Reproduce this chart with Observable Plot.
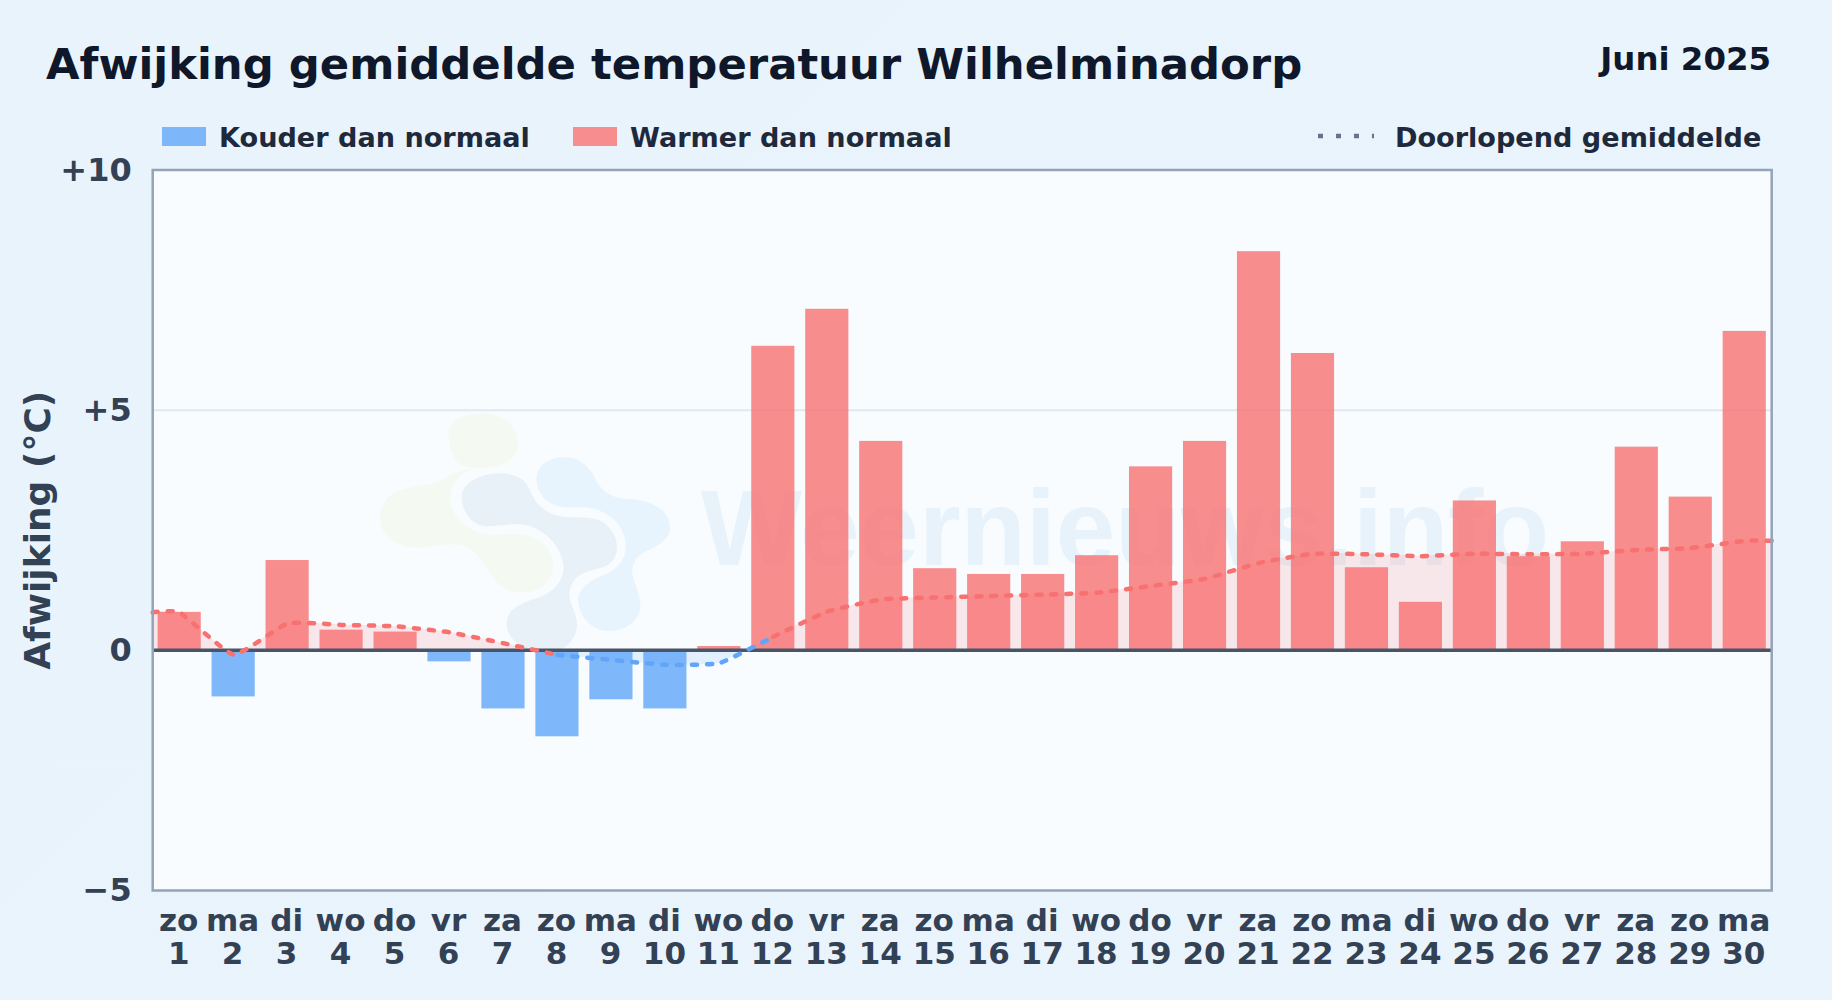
<!DOCTYPE html>
<html lang="nl"><head><meta charset="utf-8">
<script src="https://cdn.jsdelivr.net/npm/d3@7"></script>
<script src="https://cdn.jsdelivr.net/npm/@observablehq/plot@0.6"></script>
<style>
html,body{margin:0;padding:0}
body{width:1832px;height:1000px;overflow:hidden;background:linear-gradient(135deg,#e8f3fc,#eaf4fd);font-family:"DejaVu Sans",sans-serif;font-weight:700;position:relative}
.abs{position:absolute;white-space:nowrap;line-height:1}
#title{left:46px;top:43px;font-size:43.35px;color:#0f172a}
#month{right:61px;top:43px;font-size:32.4px;color:#0f172a}
.leg{top:124px;font-size:27.1px;color:#1e293b}
.sw{position:absolute;top:127px;width:44px;height:19px}
#chart{position:absolute;left:0;top:150px}
#chart svg{display:block;background:transparent}
</style></head><body>
<div class="abs" id="title">Afwijking gemiddelde temperatuur Wilhelminadorp</div>
<div class="abs" id="month">Juni 2025</div>
<div class="sw" style="left:162px;background:#7eb6fa"></div>
<div class="abs leg" style="left:219px">Kouder dan normaal</div>
<div class="sw" style="left:573px;background:#f88d8f"></div>
<div class="abs leg" style="left:630px">Warmer dan normaal</div>
<svg class="abs" style="left:1316px;top:130px" width="60" height="12"><line x1="2" x2="58" y1="6" y2="6" stroke="#64748b" stroke-width="4.5" stroke-dasharray="5 13"/></svg>
<div class="abs leg" style="left:1395px">Doorlopend gemiddelde</div>
<div id="chart"></div>
<script>
const days = d3.range(1, 31);
const weekdays = ["zo","ma","di","wo","do","vr","za","zo","ma","di","wo","do","vr","za","zo","ma","di","wo","do","vr","za","zo","ma","di","wo","do","vr","za","zo","ma"];
const deviation = [0.79,-0.97,1.87,0.42,0.38,-0.24,-1.22,-1.80,-1.03,-1.22,0.08,6.33,7.10,4.35,1.70,1.58,1.58,1.97,3.82,4.35,8.30,6.18,1.72,1.00,3.11,1.95,2.26,4.23,3.19,6.64];
const runningMean = [0.79,-0.09,0.56,0.53,0.50,0.375,0.147,-0.096,-0.20,-0.302,-0.267,0.283,0.807,1.06,1.10,1.13,1.16,1.20,1.34,1.49,1.82,2.01,2.00,1.96,2.01,2.00,2.01,2.09,2.13,2.28];
const lineX = [0.5, ...days, 30.5];
const lineY = [runningMean[0], ...runningMean, runningMean[29]];
const lineTable = lineX.map((x, i) => ({x, y: lineY[i]}));
const blueFrom = 8, blueTo = 12;
const yTicks = [-5, 0, 5, 10];
const yLabels = ["\u22125", "0", "+5", "+10"];
const red = "#f87171", blue = "#60a5fa";
const bars = days.map((d, i) => ({x1: d - 0.4, x2: d + 0.4, v: deviation[i]}));
const curveStyle = {curve: "cardinal", tension: 0.6};
const lineStyle = {x: "x", y: "y", strokeWidth: 4.5, strokeDasharray: "5 10", strokeLinecap: "round", ...curveStyle};

// The faint site logo and name behind the data
function watermark() {
  const ns = "http://www.w3.org/2000/svg";
  const g = document.createElementNS(ns, "g");
  g.innerHTML = `
  <g transform="translate(350,240) scale(0.3333)">
  <path fill="#f4f9f2" d="M295 130C298 90 350 70 400 70C460 70 505 110 503 165C500 205 470 225 420 232C380 238 320 235 290 265C255 285 215 285 170 295C120 305 90 340 90 385C90 435 140 475 205 473C250 470 310 455 350 470C385 485 405 530 430 565C455 600 500 612 540 605C585 597 612 560 610 520C608 480 570 440 510 433C460 428 420 445 370 420C325 395 295 360 302 310C308 270 345 240 385 235C300 240 300 170 295 130Z"/>
  <path fill="#e8f0f8" d="M335 320C335 280 390 250 450 250C500 250 530 270 542 305C555 340 590 375 640 380C700 385 745 375 775 410C805 440 810 490 785 515C760 540 720 535 690 555C660 575 650 610 665 645C680 680 690 710 670 745C650 780 610 792 570 788C520 780 470 750 470 700C470 660 510 640 560 625C610 610 645 570 640 525C635 480 600 430 540 408C490 395 440 412 400 408C360 400 335 360 335 320Z"/>
  <path fill="#e8f4fd" d="M560 260C562 225 600 200 650 202C695 205 722 235 738 270C755 305 790 325 830 327C880 325 960 350 960 410C960 450 920 470 885 485C855 500 840 530 850 565C865 610 880 640 865 675C845 715 800 727 760 722C715 712 682 670 685 625C690 590 730 565 775 550C815 530 835 490 825 445C810 390 760 355 700 352C640 355 595 350 575 315C562 295 558 280 560 260Z"/>
  </g>
  <text x="1125" y="415" text-anchor="middle" font-family="'Liberation Sans',sans-serif" font-weight="700" font-size="107" fill="#e6f1fa" fill-opacity="0.9">Weernieuws.info</text>`;
  return g;
}

const chart = Plot.plot({
  width: 1832,
  height: 850,
  marginLeft: 152.2,
  marginRight: 60.8,
  marginTop: 19.5,
  marginBottom: 110,
  x: {domain: [0.5, 30.5], axis: null},
  y: {domain: [-5, 10], axis: null},
  style: {background: "transparent", fontFamily: "'DejaVu Sans',sans-serif", fontWeight: 700},
  marks: [
    Plot.frame({fill: "#f8fcff", stroke: null}),
    watermark,
    Plot.ruleY([5], {stroke: "#e2e8f0", strokeWidth: 2}),
    Plot.areaY(lineTable.filter(d => d.x <= blueFrom), {x: "x", y1: 0, y2: "y", fill: red, fillOpacity: 0.15, ...curveStyle}),
    Plot.areaY(lineTable.filter(d => d.x >= blueFrom && d.x <= blueTo), {x: "x", y1: 0, y2: "y", fill: blue, fillOpacity: 0.15, ...curveStyle}),
    Plot.areaY(lineTable.filter(d => d.x >= blueTo), {x: "x", y1: 0, y2: "y", fill: red, fillOpacity: 0.15, ...curveStyle}),
    Plot.rectY(bars, {x1: "x1", x2: "x2", y1: 0, y2: "v", fill: d => d.v < 0 ? blue : red, fillOpacity: 0.8}),
    Plot.ruleY([0], {stroke: "#475569", strokeWidth: 3.5}),
    Plot.lineY(lineTable.filter(d => d.x <= blueFrom), {...lineStyle, stroke: red}),
    Plot.lineY(lineTable.filter(d => d.x >= blueFrom && d.x <= blueTo), {...lineStyle, stroke: blue}),
    Plot.lineY(lineTable.filter(d => d.x >= blueTo), {...lineStyle, stroke: red}),
    Plot.frame({stroke: "#94a3b8", strokeWidth: 2.5}),
    Plot.axisX(days, {anchor: "bottom", tickSize: 0, tickPadding: 17, dx: -1, tickFormat: d => `${weekdays[d-1]}\n${d}`, fontSize: 31, fill: "#334155", lineHeight: 1.07}),
    Plot.axisY(yTicks, {anchor: "left", tickSize: 0, tickPadding: 21, dy: 0.5, tickFormat: d => yLabels[yTicks.indexOf(d)], fontSize: 32, fill: "#334155", label: null}),
    Plot.text(["Afwijking (°C)"], {frameAnchor: "left", dx: -114, rotate: -90, fontSize: 36, fill: "#334155", textAnchor: "middle"})
  ]
});
document.getElementById("chart").appendChild(chart);
</script>
</body></html>
